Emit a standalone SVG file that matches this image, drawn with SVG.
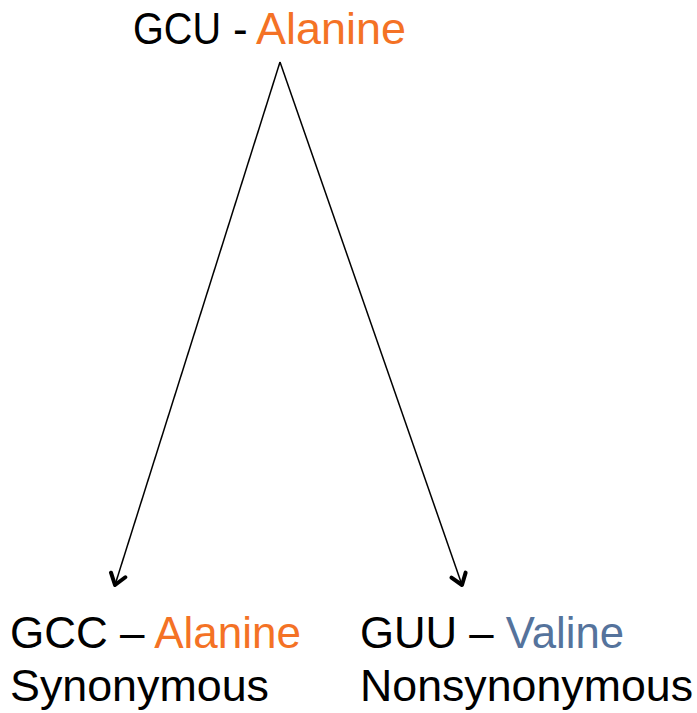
<svg xmlns="http://www.w3.org/2000/svg" width="697" height="713" viewBox="0 0 697 713">
  <style>
    text { font-family: "Liberation Sans", Arial, sans-serif; font-size: 44px; fill: #000; }
    .ala { fill: #F47225; }
    .val { fill: #55739C; }
    .edge { stroke: #000; stroke-width: 1.5; fill: none; }
    .head { stroke: #000; stroke-width: 4; fill: none; stroke-linecap: round; stroke-linejoin: round; }
  </style>
  <defs>
    <!-- open V arrowhead -->
    <marker id="arrow" viewBox="-13 -10 15 20" markerWidth="15" markerHeight="20" refX="0" refY="0" orient="auto" markerUnits="userSpaceOnUse">
      <path class="head" d="M-10.5,-7.5 L0,0 L-10.5,7.5"/>
    </marker>
  </defs>
  <rect width="697" height="713" fill="#fff"/>

  <g id="connectors">
    <line class="edge" x1="280" y1="62" x2="115" y2="585" marker-end="url(#arrow)"/>
    <line class="edge" x1="280" y1="62" x2="462" y2="585" marker-end="url(#arrow)"/>
  </g>

  <g id="node-gcu">
    <text y="44"><tspan x="133" textLength="88" lengthAdjust="spacingAndGlyphs">GCU</tspan> <tspan x="233">-</tspan> <tspan x="256" class="ala" textLength="150" lengthAdjust="spacingAndGlyphs">Alanine</tspan></text>
  </g>

  <g id="node-gcc">
    <text x="10" y="648" textLength="291" lengthAdjust="spacingAndGlyphs">GCC – <tspan class="ala">Alanine</tspan></text>
    <text x="10" y="701" textLength="259" lengthAdjust="spacingAndGlyphs">Synonymous</text>
  </g>

  <g id="node-guu">
    <text x="360" y="648" textLength="264" lengthAdjust="spacingAndGlyphs">GUU – <tspan class="val">Valine</tspan></text>
    <text x="360" y="701" textLength="333" lengthAdjust="spacingAndGlyphs">Nonsynonymous</text>
  </g>
</svg>
